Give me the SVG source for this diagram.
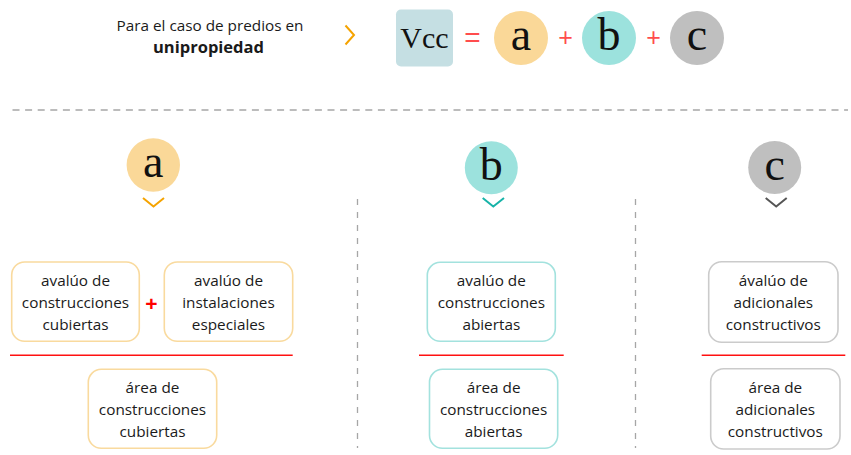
<svg xmlns="http://www.w3.org/2000/svg" width="851" height="455" viewBox="0 0 851 455">
<style>
.t{font-family:"Open Sans","Liberation Sans",sans-serif;font-size:15.3px;fill:#1a1a1a;text-anchor:middle}
.hd{font-family:"Open Sans","Liberation Sans",sans-serif;font-size:15.3px;fill:#1a1a1a;text-anchor:middle}
.hb{font-family:"Open Sans","Liberation Sans",sans-serif;font-size:16.5px;font-weight:bold;fill:#1a1a1a;text-anchor:middle}
.L{font-family:"Liberation Serif","Times New Roman",serif;font-size:46px;fill:#111;text-anchor:middle}
.box{fill:#fff;stroke-width:1.6}
.ba{stroke:#F9DA9E}
.bb{stroke:#A3E2DE}
.bc{stroke:#CBCBCB}
.red{stroke:#FF1010;stroke-width:1.4}
.dash{stroke:#A6A6A6;stroke-width:1.3;fill:none}
.op{font-family:"Liberation Sans",sans-serif;fill:#FF4D4D;text-anchor:middle}
.chev{fill:none;stroke-width:2}
</style>
<rect width="851" height="455" fill="#fff"/>

<g id="header">
<text class="hd" x="210" y="30.5">Para el caso de predios en</text>
<text class="hb" x="208.5" y="52.5">unipropiedad</text>
<polyline class="chev" points="345.5,25.5 354,35 345.5,44.5" stroke="#F5A300" stroke-width="1.6"/>
</g>

<g id="formula">
<rect x="396" y="9.5" width="57" height="57" rx="5" fill="#C5DFE3"/>
<text x="424.5" y="48" font-family="Liberation Serif,serif" font-size="30" fill="#111" text-anchor="middle">Vcc</text>
<text class="op" x="472.5" y="47" font-size="28">=</text>
<g id="fa"><circle cx="521" cy="38" r="27" fill="#FAD898"/><text class="L" x="521" y="49.5">a</text></g>
<text class="op" x="565.5" y="46" font-size="25">+</text>
<g id="fb"><circle cx="609" cy="38" r="27" fill="#9CE2DD"/><text class="L" x="609" y="49.5">b</text></g>
<text class="op" x="653.5" y="46" font-size="25">+</text>
<g id="fc"><circle cx="697" cy="38" r="27" fill="#BFBFBF"/><text class="L" x="697" y="49.5">c</text></g>
</g>

<g id="separators">
<line class="dash" x1="12.5" y1="110" x2="848" y2="110" stroke-dasharray="7 5.6"/>
<line class="dash" x1="357.5" y1="199" x2="357.5" y2="448" stroke-dasharray="6 7"/>
<line class="dash" x1="635.5" y1="199" x2="635.5" y2="448" stroke-dasharray="6 7"/>
</g>

<g id="col-a">
<circle cx="153.3" cy="165" r="26.7" fill="#FAD898"/>
<text class="L" x="153.3" y="177.3">a</text>
<polyline class="chev" points="143,198 153.5,206.5 164,198" stroke="#F5A300"/>
</g>
<g id="col-b">
<circle cx="491.3" cy="167.8" r="26.5" fill="#9CE2DD"/>
<text class="L" x="491.3" y="180">b</text>
<polyline class="chev" points="482.7,198 493.3,206.5 504,198" stroke="#17B3A8"/>
</g>
<g id="col-c">
<circle cx="774.7" cy="167.5" r="26.5" fill="#BFBFBF"/>
<text class="L" x="774.7" y="179.5">c</text>
<polyline class="chev" points="765.7,198 776.2,206.5 786.7,198" stroke="#555"/>
</g>

<g id="box-a1">
<rect class="box ba" x="11.7" y="262" width="127.6" height="79.3" rx="13"/>
<text class="t" x="75.5" y="286.3">avalúo de</text>
<text class="t" x="75.5" y="308.3">construcciones</text>
<text class="t" x="75.5" y="330.3">cubiertas</text>
</g>
<text id="plus-a" x="151.3" y="311" font-family="Liberation Sans,sans-serif" font-size="21" font-weight="bold" fill="#FF0000" text-anchor="middle">+</text>
<g id="box-a2">
<rect class="box ba" x="164.3" y="262" width="128.4" height="79.3" rx="13"/>
<text class="t" x="228.5" y="286.3">avalúo de</text>
<text class="t" x="228.5" y="308.3">instalaciones</text>
<text class="t" x="228.5" y="330.3">especiales</text>
</g>
<g id="box-a3">
<rect class="box ba" x="88.3" y="369.3" width="128.4" height="79" rx="13"/>
<text class="t" x="152.5" y="393.3">área de</text>
<text class="t" x="152.5" y="415.3">construcciones</text>
<text class="t" x="152.5" y="437.3">cubiertas</text>
</g>

<g id="box-b1">
<rect class="box bb" x="427.3" y="262.3" width="128" height="79" rx="13"/>
<text class="t" x="491.3" y="286.3">avalúo de</text>
<text class="t" x="491.3" y="308.3">construcciones</text>
<text class="t" x="491.3" y="330.3">abiertas</text>
</g>
<g id="box-b2">
<rect class="box bb" x="429.5" y="369.3" width="128.2" height="79" rx="13"/>
<text class="t" x="493.6" y="393.3">área de</text>
<text class="t" x="493.6" y="415.3">construcciones</text>
<text class="t" x="493.6" y="437.3">abiertas</text>
</g>

<g id="box-c1">
<rect class="box bc" x="708.7" y="261.7" width="129.3" height="80.6" rx="13"/>
<text class="t" x="773.3" y="286.3">ávalúo de</text>
<text class="t" x="773.3" y="308.3">adicionales</text>
<text class="t" x="773.3" y="330.3">constructivos</text>
</g>
<g id="box-c2">
<rect class="box bc" x="710.7" y="368.7" width="129.3" height="80.3" rx="13"/>
<text class="t" x="775.3" y="393.3">área de</text>
<text class="t" x="775.3" y="415.3">adicionales</text>
<text class="t" x="775.3" y="437.3">constructivos</text>
</g>

<g id="connectors">
<line class="red" x1="10" y1="355.3" x2="292.7" y2="355.3"/>
<line class="red" x1="419" y1="355.3" x2="563.7" y2="355.3"/>
<line class="red" x1="701.7" y1="355.3" x2="845.3" y2="355.3"/>
</g>
</svg>
